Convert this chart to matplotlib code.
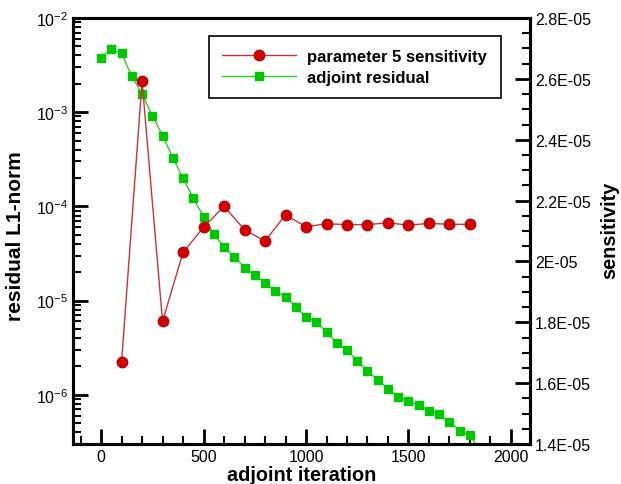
import numpy as np
import matplotlib
matplotlib.use("Agg")
import matplotlib.pyplot as plt
from matplotlib.ticker import MultipleLocator, LogLocator, FixedLocator, FixedFormatter, NullFormatter

plt.rcParams['font.family'] = ['Liberation Sans', 'DejaVu Sans']
plt.rcParams['mathtext.default'] = 'regular'

# adjoint residual (left axis, log), every 50 iterations
res_iter = np.arange(0, 1851, 50)
res_vals = [3.73e-3, 4.64e-3, 4.2e-3, 2.4e-3, 1.55e-3, 9.2e-4, 5.65e-4, 3.3e-4,
            2.0e-4, 1.22e-4, 7.8e-5, 5.1e-5, 3.7e-5, 2.92e-5, 2.23e-5, 1.86e-5,
            1.55e-5, 1.25e-5, 1.1e-5, 8.6e-6, 6.7e-6, 5.93e-6, 4.64e-6, 3.55e-6,
            2.99e-6, 2.29e-6, 1.79e-6, 1.44e-6, 1.16e-6, 9.5e-7, 8.6e-7, 7.7e-7,
            6.7e-7, 6.3e-7, 5.16e-7, 4.14e-7, 3.7e-7, 2.55e-7]

# parameter 5 sensitivity (right axis), every 100 iterations
sens_iter = np.arange(100, 1801, 100)
sens_vals = [1.669e-5, 2.592e-5, 1.803e-5, 2.030e-5, 2.112e-5, 2.181e-5, 2.104e-5,
             2.067e-5, 2.153e-5, 2.114e-5, 2.124e-5, 2.121e-5, 2.121e-5, 2.127e-5,
             2.119e-5, 2.125e-5, 2.122e-5, 2.122e-5]

right_ticks = [1.4e-5, 1.6e-5, 1.8e-5, 2.0e-5, 2.2e-5, 2.4e-5, 2.6e-5, 2.8e-5]
right_labels = ['1.4E-05', '1.6E-05', '1.8E-05', '2E-05', '2.2E-05', '2.4E-05', '2.6E-05', '2.8E-05']

fig = plt.figure(figsize=(6.21, 4.85), dpi=100)
ax = fig.add_axes([73/621, 1-445/485, 457/621, 426/485])
ax2 = ax.twinx()

l_green, = ax.plot(res_iter, res_vals, '-', color='#33cc33', lw=1.0,
                   marker='s', ms=5.2, mfc='#00c800', mec='#00c800', label='adjoint residual')
l_red, = ax2.plot(sens_iter, sens_vals, '-', color='#cc3333', lw=1.0,
                  marker='o', ms=7.5, mfc='#d40000', mec='#c00000', label='parameter 5 sensitivity')

ax.set_yscale('log')
ax.set_ylim(3e-7, 1e-2)
ax.set_xlim(-137, 2093)
ax2.set_ylim(1.4e-5, 2.8e-5)

ax.xaxis.set_major_locator(MultipleLocator(500))
ax.xaxis.set_minor_locator(MultipleLocator(100))
ax.yaxis.set_major_locator(LogLocator(base=10, numticks=10))
ax.yaxis.set_minor_locator(LogLocator(base=10, subs=np.arange(2, 10), numticks=20))
ax.yaxis.set_minor_formatter(NullFormatter())

ax2.yaxis.set_major_locator(FixedLocator(right_ticks))
ax2.yaxis.set_major_formatter(FixedFormatter(right_labels))
ax2.yaxis.set_minor_locator(MultipleLocator(0.05e-5))

ax.tick_params(which='both', direction='in', top=False, right=False, labelsize=11.5, width=2)
ax.tick_params(which='major', length=11)
ax.tick_params(which='minor', length=6, width=1.5)
ax2.tick_params(which='both', direction='in', labelsize=11.5, width=2)
ax2.tick_params(which='major', length=11)
ax2.tick_params(which='minor', length=6, width=1.5)

for a in (ax, ax2):
    for s in a.spines.values():
        s.set_linewidth(2.2)

ax.set_xlabel('adjoint iteration', fontsize=14.3, fontweight='bold')
ax.xaxis.set_label_coords(0.5, -0.049)
ax.set_ylabel('residual L1-norm', fontsize=15, fontweight='bold')
ax.yaxis.set_label_coords(-0.105, 0.49)
ax2.set_ylabel('sensitivity', fontsize=14.3, fontweight='bold')
ax2.yaxis.set_label_coords(1.153, 0.503)

leg = ax2.legend(handles=[l_red, l_green], loc='upper left',
                 bbox_to_anchor=(0.2976, 0.958), prop={'weight': 'bold', 'size': 12},
                 handlelength=4.4, handletextpad=0.7, borderpad=0.8, labelspacing=0.35,
                 borderaxespad=0, fancybox=False, framealpha=1, edgecolor='black')
leg.get_frame().set_linewidth(1.2)

fig.savefig('out.png', dpi=100)
